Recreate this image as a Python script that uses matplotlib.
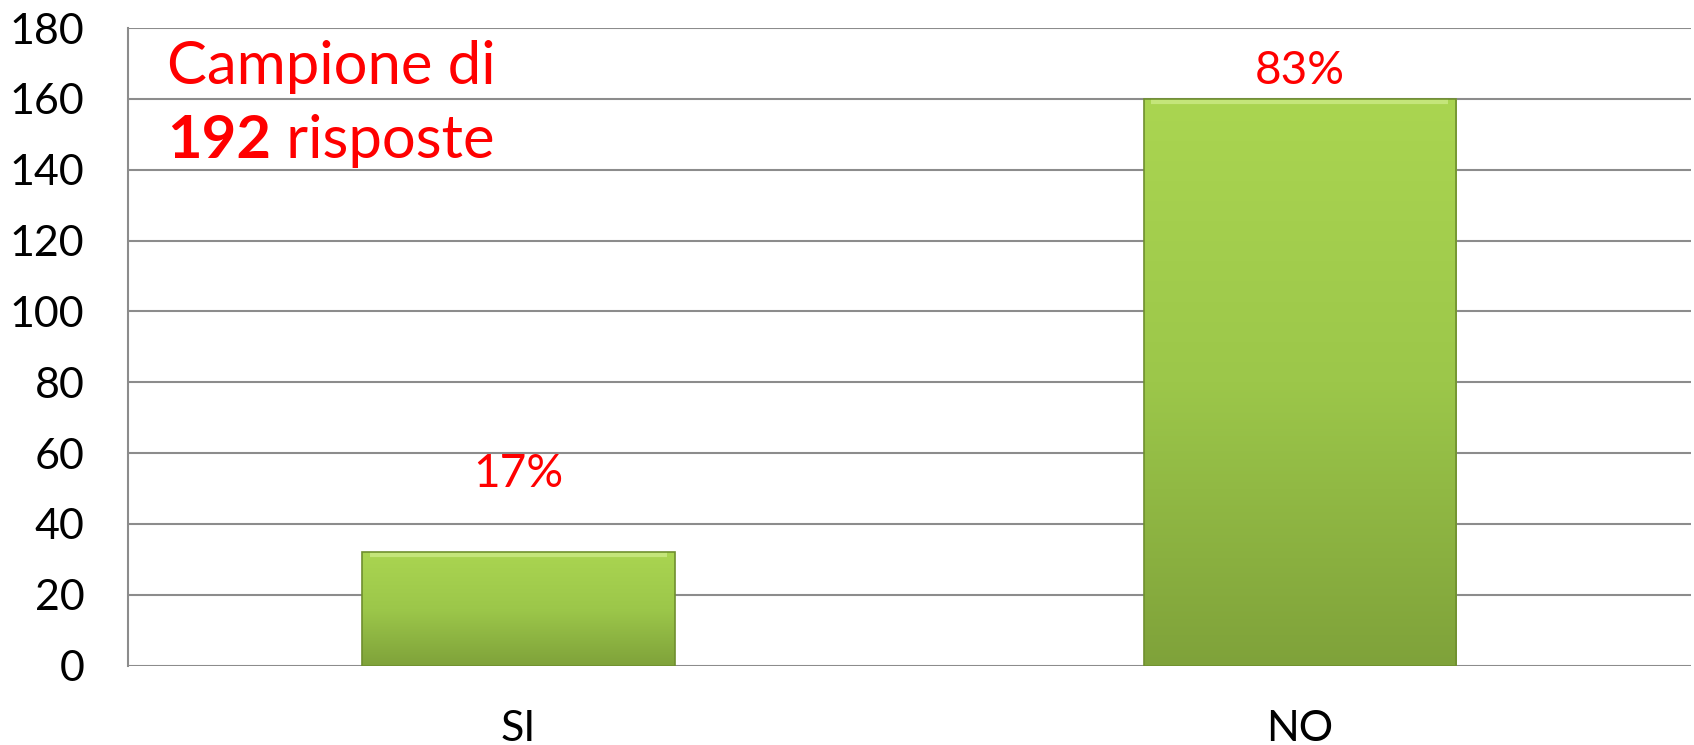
import numpy as np
import matplotlib.pyplot as plt
from matplotlib.colors import LinearSegmentedColormap

# dati
categorie = ["SI", "NO"]
risposte = [32, 160]
percentuali = ["17%", "83%"]
etichetta_y = [54, 168]   # posizione delle etichette percentuali
totale = 192

plt.rcParams["font.family"] = ["Lato", "DejaVu Sans"]

fig = plt.figure(figsize=(16.94, 7.45), dpi=100)
ax = fig.add_axes([0.0753, 0.1067, 0.9227, 0.8557])

x = np.arange(len(categorie))
barre = ax.bar(x, risposte, width=0.40, color="none", edgecolor="#6f8f2f", linewidth=1.2, zorder=3)

# sfumatura verde come in Excel
cmap = LinearSegmentedColormap.from_list("verde", ["#7fa23a", "#9cc74a", "#aad551"])
grad = np.linspace(0, 1, 256).reshape(-1, 1)
for b in barre:
    x0, y0 = b.get_x(), b.get_y()
    w, h = b.get_width(), b.get_height()
    im = ax.imshow(grad, cmap=cmap, origin="lower", aspect="auto",
                   extent=[x0, x0 + w, y0, y0 + h], zorder=2)
    im.set_clip_path(b)
    # bordo chiaro in alto
    ax.plot([x0 + 0.01, x0 + w - 0.01], [y0 + h - 0.8, y0 + h - 0.8],
            color="#c4e57a", lw=3, zorder=4, solid_capstyle="butt")

for xi, p, yl in zip(x, percentuali, etichetta_y):
    ax.text(xi, yl, p, color="red", fontsize=33, ha="center", va="center")

ax.text(-0.45, 169, "Campione di", color="red", fontsize=43, ha="left", va="center")
t1 = ax.text(-0.45, 148, str(totale), color="red", fontsize=43, fontweight="bold",
             ha="left", va="center")
ax.annotate(" risposte", xy=(1, 0.5), xycoords=t1, color="red", fontsize=43,
            ha="left", va="center")

ax.set_xlim(-0.5, 1.5)
ax.set_ylim(0, 180)
ax.set_yticks(range(0, 181, 20))
ax.set_xticks(x)
ax.set_xticklabels(categorie)
ax.tick_params(axis="y", length=0, labelsize=31, pad=31)
ax.tick_params(axis="x", length=0, labelsize=31, pad=32)
ax.yaxis.grid(True, color="#8c8c8c", linewidth=1.5, zorder=0)
ax.set_axisbelow(True)
for s in ["top", "right", "bottom"]:
    ax.spines[s].set_visible(False)
ax.spines["left"].set_color("#8c8c8c")
ax.spines["left"].set_linewidth(1.5)

fig.savefig("out.png", dpi=100)
